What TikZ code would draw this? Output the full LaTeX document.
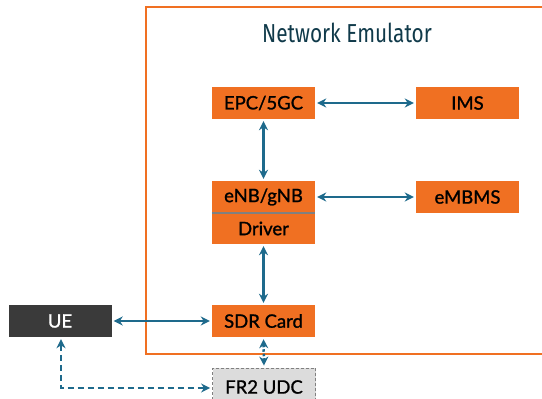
\documentclass[tikz,border=0pt]{standalone}
\usepackage{fontspec}
\setmainfont{Lato}
\newfontfamily\labelfont[FakeBold=1.2]{Lato}
\newfontfamily\titlefont[FakeStretch=0.8]{Fira Sans}
\usetikzlibrary{arrows.meta}
\definecolor{neorange}{HTML}{F07022}
\definecolor{arrowblue}{HTML}{1E6A8C}
\definecolor{titleteal}{HTML}{103A4A}
\definecolor{uegray}{HTML}{3A3A3A}
\definecolor{udcgray}{HTML}{DCDCDC}
\definecolor{labeltext}{HTML}{000000}
\begin{document}
\begin{tikzpicture}[x=1pt,y=-1pt,
  blk/.style={fill=neorange,draw=none,minimum width=103pt,minimum height=32pt,inner sep=0pt},
  lbl/.style={font=\labelfont\fontsize{18.5}{18.5}\selectfont,text=labeltext,inner sep=0pt},
  conn/.style={draw=arrowblue,line width=2.5pt,{Stealth[length=9pt,width=9pt]}-{Stealth[length=9pt,width=9pt]}},
]
\useasboundingbox (0,0) rectangle (542,399);
% frame
\draw[neorange,line width=2.6pt] (543,7) -- (146,7) -- (146,354) -- (543,354);
\node[text=titleteal,font=\titlefont\fontsize{26}{26}\selectfont] (title) at (347,33) {Network Emulator};
% blocks
\node[blk] (epc) at (263.5,103) {};
\node[blk] (ims) at (467.5,103) {};
\node[blk] (enb) at (263.5,197) {};
\node[blk,minimum height=31pt] (drv) at (263.5,228.5) {};
\draw[gray,line width=1.8pt] (enb.south west) -- (enb.south east);
\node[blk] (embms) at (467.5,197) {};
\node[blk] (sdr) at (263.5,321) {};
\node[blk,fill=uegray] (ue) at (60,321) {};
\node[blk,fill=udcgray,draw=gray,densely dashed,line width=0.8pt,minimum height=40pt] (udc) at (264,388) {};
% labels
\node[lbl] (epct) at (epc) {EPC/5GC};
\node[lbl] (imst) at (ims) {IMS};
\node[lbl] (enbt) at (enb) {eNB/gNB};
\node[lbl] (drvt) at (drv) {Driver};
\node[lbl] (embmst) at (embms) {eMBMS};
\node[lbl] (sdrt) at (sdr) {SDR Card};
\node[lbl,text=white] (uet) at (ue) {UE};
\node[lbl] (udct) at (264,387) {FR2 UDC};
% connectors
\draw[conn,shorten <=2pt,shorten >=2pt] (epc.east) -- (ims.west);
\draw[conn,shorten <=2pt,shorten >=2pt] (epc.south) -- (enb.north);
\draw[conn,shorten <=2pt,shorten >=2pt] (enb.east) -- (embms.west);
\draw[conn,shorten <=2pt,shorten >=2pt] (drv.south) -- (sdr.north);
\draw[conn,shorten <=2pt,shorten >=2pt] (ue.east) -- (sdr.west);
\draw[conn,dotted,shorten <=2pt,shorten >=2pt] (sdr.south) -- (udc.north);
\coordinate (corner) at ([xshift=1pt]ue.south |- udc.west);
\draw[conn,dash pattern=on 6pt off 4pt,shorten <=2pt,shorten >=2pt] ([xshift=1pt]ue.south) -- (corner) -- (udc.west);
\end{tikzpicture}
\end{document}
